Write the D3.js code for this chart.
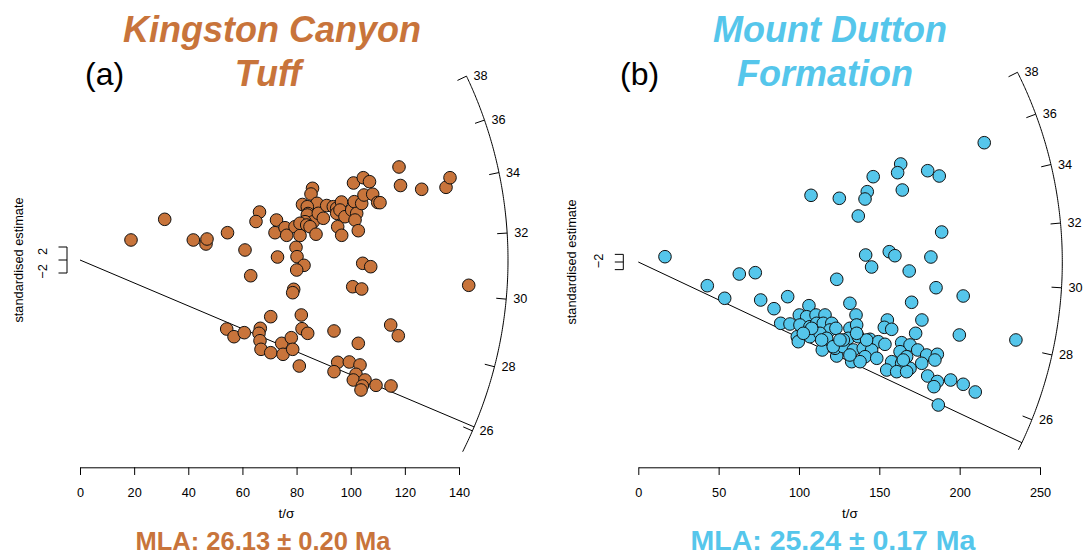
<!DOCTYPE html>
<html>
<head>
<meta charset="utf-8">
<script src="https://cdn.jsdelivr.net/npm/d3@7"></script>
<style>
  body { margin: 0; background: #fff; }
  svg { display: block; }
</style>
</head>
<body>
<svg id="chart" width="1085" height="555"></svg>
<script>
// ---------------- DATA ----------------
// Panel (a) Kingston Canyon Tuff: precision (t/sigma) and standardised estimate
const kctPrecision = [18.84, 31.29, 41.85, 46.54, 46.91, 54.49, 60.95, 63.06, 66.31, 65.01,
  72.59, 72.03, 72.96, 75.73, 76.35, 79.42, 81.27, 79.79, 80.16, 82.75,
  80.05, 78.94, 78.57, 82.19, 85.89, 85.33, 87.55, 83.96, 84.22, 83.96,
  86.18, 83.12, 81.27, 83.74, 84.96, 87.18, 88.03, 89.88, 91.13, 93.57,
  94.82, 94.82, 96.6, 96.04, 97.89, 95.19, 96.67, 100.37, 101.33, 102.21,
  101.59, 102.8, 104.06, 104.91, 101.03, 104.65, 106.94, 108.12, 109.97, 104.43,
  107.39, 100.74, 104.06, 117.84, 118.39, 126.22, 135.2, 136.68, 110.82, 143.59,
  54.19, 56.89, 60.69, 66.6, 66.12, 66.49, 66.86, 70.45, 70.45, 74.51,
  74.99, 78.05, 78.57, 81.75, 82.01, 84.11, 81.01, 93.83, 95.19, 93.83,
  99.48, 103.43, 102.8, 101.95, 100.96, 105.28, 104.28, 103.8, 109.34, 114.88,
  114.77, 117.58];
const kctEstimate = [3.08, 6.26, 3.08, 2.46, 3.23, 4.2, 1.54, -2.42, 7.38, 5.92,
  6.15, 4.2, 0.46, 4.97, 3.8, 5.12, 3.77, 1.95, 0.51, -0.82,
  -1.54, -4.51, -5.03, 8.54, 11.03, 10.15, 8.72, 8.2, 7.15, 6.92,
  5.89, 5.89, 5.65, 5.38, 5.12, 3.97, 7.18, 6.42, 8.38, 8.2,
  7.95, 7.18, 8.92, 7.69, 6.66, 5.12, 3.8, 7.69, 8.97, 7.18,
  6.15, 4.51, 8.69, 10, 11.85, 12.66, 12.05, 10.12, 8.85, -0.51,
  -1.03, -4.11, -4.46, 14.31, 11.46, 10.88, 11.18, 12.66, 8.82, -3.89,
  -10.62, -11.8, -11.18, -10.51, -11.28, -12.42, -13.74, -8.72, -14.26, -12.82,
  -14.51, -11.95, -13.74, -8.46, -10.57, -11.28, -16.31, -10.92, -15.74, -17.18,
  -15.69, -16.15, -12.82, -17.58, -18.46, -18.46, -19.38, -20, -19.28, -19.38,
  -10, -11.65];

// Panel (b) Mount Dutton Formation
const mdfPrecision = [215.3, 163.3, 161.4, 180.1, 187.3, 146.2, 107.5, 125.1, 142.5, 141.1,
  164.3, 136.9, 188.8, 16.6, 141.5, 145.2, 156.2, 159.7, 182.1, 168.6,
  62.85, 72.81, 42.94, 53.77, 123.5, 76.17, 92.97, 84.45, 185.3, 202.2,
  170.1, 131.7, 106.2, 176.5, 199.8, 155, 153.1, 157.7, 172.6, 135.5,
  88.62, 94.4, 99.57, 114.5, 123.5, 180.1, 186.1, 184, 194.4, 202.2,
  209.7, 186.7, 235,
  100.2, 104.8, 110.6, 116.2, 100.6, 106.8, 111, 115.1, 120.4, 119.3,
  123, 104.8, 98.95, 99.57, 106.8, 113.1, 117.2, 114.1, 122.4, 131.7,
  135.9, 130.7, 136.9, 144.2, 149.4, 153.5, 127.6, 133.8, 140, 145.2,
  141.1, 148.4, 132.8, 138, 163.9, 169.1, 173.9, 179.5, 186.1, 184.6,
  176.4, 162.9, 167, 157.7, 163.9, 169.1, 154.6, 160.8, 167, 127.6,
  142.1, 121.3, 131.7, 164.9, 135.9, 125.5, 107.9, 102.7];
const mdfEstimate = [31.27, 25.69, 23.41, 23.93, 22.54, 22.36, 17.48, 16.7, 18.43, 16.51,
  18.87, 12.06, 7.86, 1.39, 1.83, -1.31, 2.7, 1.65, 1.31, -2.36,
  -3.15, -2.8, -6.21, -9.51, -4.53, -9.96, -9.09, -12.24, -6.74, -8.91,
  -10.56, -10.82, -11.45, -15.2, -19.13, -15.2, -17.12, -17.64, -18.69, -13.89,
  -16.07, -16.25, -20, -23.06, -24.64, -29.88, -31.32, -32.68, -30.93, -32.05,
  -34.07, -37.48, -20.44,
  -13.89, -14.34, -13.89, -13.89, -16.51, -16.96, -16.07, -16.07, -16.07, -17.82,
  -17.38, -18.69, -19.58, -20.89, -19.58, -18.69, -20, -20.44, -22.62, -17.38,
  -16.51, -20, -19.58, -20.26, -20.89, -21.57, -22.2, -23.06, -22.62, -23.06,
  -24.82, -25.24, -26.13, -26.13, -21.15, -21.75, -23.06, -24.38, -24.19, -25.69,
  -26.55, -23.51, -24.82, -26.13, -26.55, -27.86, -28.31, -28.75, -28.75, -20.44,
  -20.44, -22.2, -24.38, -25.69, -18.69, -20.44, -17.38, -18.69];

const kctXTicks = [0, 20, 40, 60, 80, 100, 120, 140];
const mdfXTicks = [0, 50, 100, 150, 200, 250];
const ageTicks = [26, 28, 30, 32, 34, 36, 38];
const estimateTicks = [-2, 0, 2];
const kctEstimateLabels = ["\u22122", "", "2"];
const mdfEstimateLabels = ["\u22122"];
const kctTitle = ["Kingston Canyon", "Tuff"];
const mdfTitle = ["Mount Dutton", "Formation"];
const kctCentralAge = 31.17, mdfCentralAge = 30.78;
const kctMLA = 26.13, mdfMLA = 25.24;
const kctMLAText = "MLA: 26.13 \u00b1 0.20 Ma";
const mdfMLAText = "MLA: 25.24 \u00b1 0.17 Ma";
const kctArcAges = [25.3, 38];
const mdfArcAges = [25.0, 38];

// ---------------- DRAW ----------------
const FONT = '"Liberation Sans", Arial, Helvetica, sans-serif';
const svg = d3.select('#chart');

function drawPanel(p) {
  const g = svg.append('g');
  const x = d3.scaleLinear().domain(p.xDomain).range(p.xRange);
  const y = d3.scaleLinear().domain([0, 1]).range([p.originY, p.originY - p.ky]);
  const ox = x(0), oy = y(0);
  const z0 = Math.log(p.centralAge);
  const dirOf = t => {
    const s = Math.log(t) - z0;
    const vx = x(1) - x(0), vy = y(s) - y(0);
    const L = Math.hypot(vx, vy);
    return [vx / L, vy / L];
  };
  const arcPt = (t, r) => { const u = dirOf(t); return [ox + r * u[0], oy + r * u[1]]; };

  // arc
  const n = 200;
  const ages = d3.range(n + 1).map(i => p.arcAges[0] + (p.arcAges[1] - p.arcAges[0]) * i / n);
  g.append('path')
    .attr('d', d3.line()(ages.map(t => arcPt(t, p.R))))
    .attr('fill', 'none').attr('stroke', '#000').attr('stroke-width', 1);
  // arc ticks + labels
  p.ageTicks.forEach(t => {
    const a = arcPt(t, p.R), b = arcPt(t, p.R - 10);
    g.append('line').attr('x1', a[0]).attr('y1', a[1]).attr('x2', b[0]).attr('y2', b[1])
      .attr('stroke', '#000').attr('stroke-width', 1);
    g.append('text').attr('x', a[0] + 7).attr('y', a[1])
      .attr('dominant-baseline', 'central').attr('text-anchor', 'start')
      .attr('font-family', FONT).attr('font-size', 12.7).text(t);
  });

  // MLA line
  const e = arcPt(p.mla, p.R);
  g.append('line').attr('x1', ox).attr('y1', oy).attr('x2', e[0]).attr('y2', e[1])
    .attr('stroke', '#000').attr('stroke-width', 1);

  // points
  g.append('g').selectAll('circle')
    .data(d3.range(p.xs.length))
    .join('circle')
    .attr('cx', i => x(p.xs[i]))
    .attr('cy', i => y(p.ys[i]))
    .attr('r', 6.3)
    .attr('fill', p.color)
    .attr('stroke', '#111')
    .attr('stroke-width', 1);

  // x axis
  const ax = g.append('g').attr('transform', `translate(0,${p.axisY})`)
    .call(d3.axisBottom(x).tickValues(p.xTicks).tickSize(7.7).tickSizeOuter(0).tickPadding(12.5));
  ax.select('.domain').attr('stroke', '#000');
  ax.selectAll('.tick line').attr('stroke', '#000');
  ax.selectAll('text').attr('font-size', 12.7).attr('font-family', FONT).attr('fill', '#000');

  g.append('text').attr('x', p.xLabelX).attr('y', p.axisY + 51)
    .attr('text-anchor', 'middle').attr('font-family', FONT).attr('font-size', 13.5)
    .text('t/\u03c3');

  // standardised estimate scale bar
  const bx = p.barX;
  g.append('line').attr('x1', bx).attr('x2', bx).attr('y1', y(-2)).attr('y2', y(2))
    .attr('stroke', '#000').attr('stroke-width', 1);
  p.estTicks.forEach(v => {
    g.append('line').attr('x1', bx).attr('x2', bx - 8.5).attr('y1', y(v)).attr('y2', y(v))
      .attr('stroke', '#000').attr('stroke-width', 1);
  });
  p.estLabels.forEach((lab, i) => {
    if (!lab) return;
    const yy = p.estLabelPos[i];
    g.append('text').attr('transform', `translate(${bx - 24},${yy}) rotate(-90)`)
      .attr('text-anchor', 'middle').attr('dominant-baseline', 'central')
      .attr('font-family', FONT).attr('font-size', 12.7).text(lab);
  });
  g.append('text').attr('transform', `translate(${p.yTitleX},${oy}) rotate(-90)`)
    .attr('text-anchor', 'middle').attr('dominant-baseline', 'central')
    .attr('font-family', FONT).attr('font-size', 12.8).text('standardised estimate');

  // titles
  p.title.forEach((line, i) => {
    g.append('text').attr('x', p.titleX[i]).attr('y', 42 + i * 44)
      .attr('text-anchor', 'middle').attr('font-family', FONT)
      .attr('font-weight', 'bold').attr('font-style', 'italic')
      .attr('font-size', 36).attr('fill', p.color).text(line);
  });
  g.append('text').attr('x', p.tagX).attr('y', 85)
    .attr('font-family', FONT).attr('font-size', 32).text(p.tag);
  g.append('text').attr('x', p.mlaX).attr('y', 550)
    .attr('text-anchor', 'middle').attr('font-family', FONT).attr('font-weight', 'bold')
    .attr('font-size', p.mlaSize).attr('fill', p.color).text(p.mlaText);
}

drawPanel({
  xs: kctPrecision, ys: kctEstimate, color: '#c8743b',
  xDomain: [0, 140], xRange: [80, 459], originY: 260, ky: 6.5, axisY: 467.3,
  centralAge: kctCentralAge, mla: kctMLA, arcAges: kctArcAges, R: 428,
  ageTicks: ageTicks, xTicks: kctXTicks, xLabelX: 286.5,
  barX: 67, estTicks: estimateTicks, estLabels: kctEstimateLabels,
  estLabelPos: [271.5, 260, 251.5], yTitleX: 18.5,
  title: kctTitle, titleX: [272, 268], tag: '(a)', tagX: 85,
  mlaText: kctMLAText, mlaX: 263, mlaSize: 25.5
});
drawPanel({
  xs: mdfPrecision, ys: mdfEstimate, color: '#55c6eb',
  xDomain: [0, 250], xRange: [638.3, 1040], originY: 262, ky: 3.815, axisY: 467.3,
  centralAge: mdfCentralAge, mla: mdfMLA, arcAges: mdfArcAges, R: 424,
  ageTicks: ageTicks, xTicks: mdfXTicks, xLabelX: 850,
  barX: 623.3, estTicks: estimateTicks, estLabels: mdfEstimateLabels,
  estLabelPos: [261], yTitleX: 571,
  title: mdfTitle, titleX: [830, 825], tag: '(b)', tagX: 620,
  mlaText: mdfMLAText, mlaX: 833, mlaSize: 28.5
});
</script>
</body>
</html>
